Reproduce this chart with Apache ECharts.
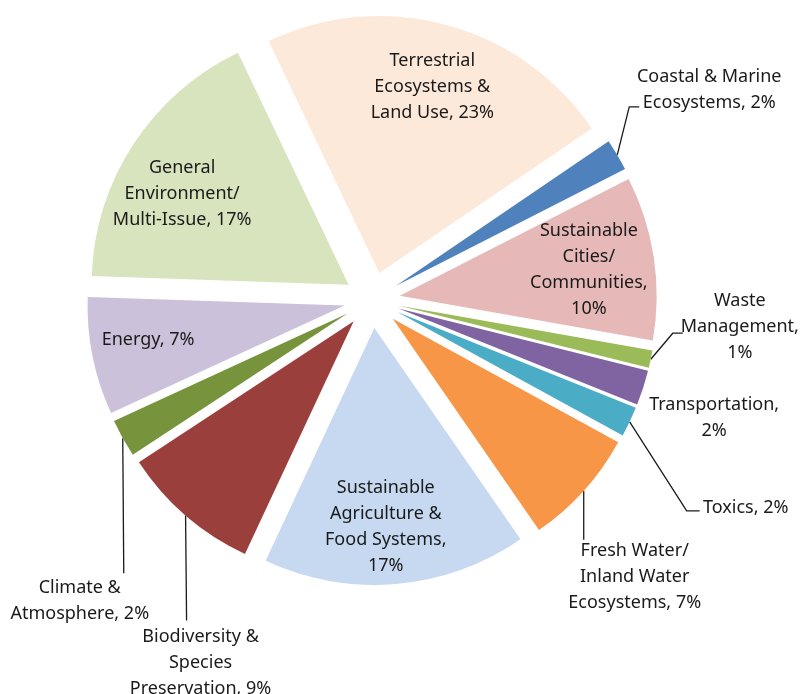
<!DOCTYPE html>
<html lang="en">
<head>
  <meta charset="UTF-8">
  <title>Grants by issue area</title>
  <script src="https://cdn.jsdelivr.net/npm/echarts@6/dist/echarts.min.js"></script>
  <style>html,body{margin:0;padding:0;background:#fff;}</style>
</head>
<body>
<div id="main" style="width:801px;height:694px;"></div>
<script>
  // slices, clockwise from the top-left edge of the big peach slice
  var categories = ['Terrestrial Ecosystems & Land Use', 'Coastal & Marine Ecosystems', 'Sustainable Cities/ Communities',
    'Waste Management', 'Transportation', 'Toxics', 'Fresh Water/ Inland Water Ecosystems',
    'Sustainable Agriculture & Food Systems', 'Biodiversity & Species Preservation', 'Climate & Atmosphere',
    'Energy', 'General Environment/ Multi-Issue'];
  var values = [22.6, 2.0, 10.3, 1.1, 2.2, 1.9, 7.4, 16.6, 8.8, 2.4, 7.4, 17.4];
  var labelTexts = ['Terrestrial\nEcosystems &\nLand Use, {p}%', 'Coastal & Marine\nEcosystems, {p}%',
    'Sustainable\nCities/\nCommunities,\n{p}%', 'Waste\nManagement,\n{p}%', 'Transportation,\n{p}%',
    'Toxics, {p}%', 'Fresh Water/\nInland Water\nEcosystems, {p}%', 'Sustainable\nAgriculture &\nFood Systems,\n{p}%',
    'Biodiversity &\nSpecies\nPreservation, {p}%', 'Climate &\nAtmosphere, {p}%', 'Energy, {p}%',
    'General\nEnvironment/\nMulti-Issue, {p}%'];
  var colors = ['#FDE9D9', '#4F81BD', '#E6B9B8', '#9BBB59', '#8064A2', '#4BACC6', '#F79646',
    '#C6D9F1', '#9B3F3C', '#77933C', '#CCC1DA', '#D7E4BD'];

  var CX = 372, CY = 300, R = 257, OFFSET = 28;
  var START = -25.5; // degrees clockwise from 12 o'clock

  // outside labels: offset of label centre from the slice's outer mid point, and leader bends
  var labelPlace = {
    1: {dx: 92, dy: -65, line: [[12, -48], [22, -48]]},
    3: {dx: 89, dy: -32, line: [[22, -26], [32, -26]]},
    4: {dx: 71, dy: 30, line: null},
    5: {dx: 116, dy: 86, line: [[57, 89], [70, 89]]},
    6: {dx: 51, dy: 86, line: [[0, 49]]},
    8: {dx: 15, dy: 147, line: [[1, 105]]},
    9: {dx: -43, dy: 163, line: [[1, 135]]}
  };
  // small nudges for labels drawn inside the slices
  var insideNudge = {0: [2, 2], 2: [-4, 3], 7: [-5, 4], 10: [-5, -4], 11: [-3, 16]};

  var total = values.reduce(function (a, b) { return a + b; }, 0);
  function midDir(i) {
    var before = 0;
    for (var k = 0; k < i; k++) before += values[k];
    var a = (START + (before + values[i] / 2) / total * 360) * Math.PI / 180;
    return [Math.sin(a), -Math.cos(a)];
  }

  var myChart = echarts.init(document.getElementById('main'));

  var common = {
    type: 'pie',
    center: [CX, CY],
    radius: R,
    startAngle: 90 - START,
    clockwise: true,
    avoidLabelOverlap: false,
    emphasis: {disabled: true}
  };

  var option = {
    animation: false,
    series: [
      // the exploded slices
      Object.assign({}, common, {
        selectedMode: 'multiple',
        selectedOffset: OFFSET,
        itemStyle: {borderWidth: 0},
        select: {itemStyle: {borderWidth: 0}},
        label: {show: false},
        labelLine: {show: false},
        data: categories.map(function (name, i) {
          return {name: name, value: values[i], selected: true, itemStyle: {color: colors[i]}};
        })
      }),
      // same slices, invisible, carrying the labels
      Object.assign({}, common, {
        silent: true,
        selectedMode: false,
        itemStyle: {color: 'transparent', borderWidth: 0},
        label: {
          color: '#1a1a1a',
          fontFamily: 'Noto Sans',
          fontSize: 18,
          lineHeight: 26,
          formatter: function (p) {
            return labelTexts[p.dataIndex].replace('{p}', Math.round(p.percent));
          }
        },
        labelLine: {lineStyle: {color: '#1a1a1a', width: 1.3}},
        labelLayout: function (p) {
          var i = p.dataIndex, d = midDir(i), place = labelPlace[i];
          if (!place) {
            var rr = OFFSET + R * 0.76, n = insideNudge[i] || [0, 0];
            return {x: CX + d[0] * rr + n[0], y: CY + d[1] * rr + n[1], align: 'center', verticalAlign: 'middle'};
          }
          var ax = CX + d[0] * (OFFSET + R), ay = CY + d[1] * (OFFSET + R);
          var pts = [[ax, ay]];
          (place.line || []).forEach(function (q) { pts.push([ax + q[0], ay + q[1]]); });
          var out = {x: ax + place.dx, y: ay + place.dy, align: 'center', verticalAlign: 'middle'};
          if (place.line) out.labelLinePoints = pts;
          return out;
        },
        data: categories.map(function (name, i) {
          var place = labelPlace[i];
          return {
            name: name,
            value: values[i],
            label: {position: place ? 'outside' : 'inside'},
            labelLine: {show: !!(place && place.line)}
          };
        })
      })
    ]
  };

  myChart.setOption(option);
</script>
</body>
</html>
